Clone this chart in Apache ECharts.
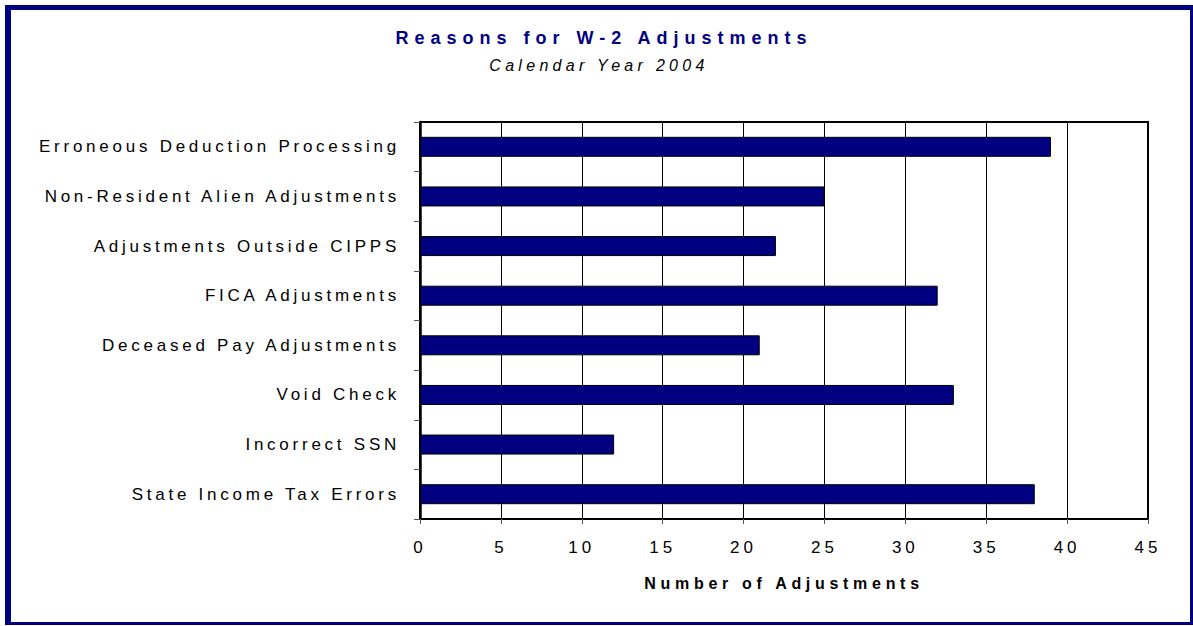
<!DOCTYPE html>
<html>
<head>
<meta charset="utf-8">
<script src="https://cdn.jsdelivr.net/npm/echarts@6/dist/echarts.min.js"></script>
<style>
  html, body { margin: 0; padding: 0; background: #fff; }
  #chart { position: absolute; left: 0; top: 0; width: 1193px; height: 626px; }
  #frame { position: absolute; left: 5px; top: 5px; width: 1188px; height: 620px; box-sizing: border-box;
           border-style: solid; border-color: #000080; border-width: 5px 3px 3px 6px; pointer-events: none; }
</style>
</head>
<body>
<div id="chart"></div>
<div id="frame"></div>
<script>
const titleText = 'Reasons for W-2 Adjustments';
const subtitleText = 'Calendar Year 2004';
const xAxisName = 'Number of Adjustments';
const categories = [
  'Erroneous Deduction Processing',
  'Non-Resident Alien Adjustments',
  'Adjustments Outside CIPPS',
  'FICA Adjustments',
  'Deceased Pay Adjustments',
  'Void Check',
  'Incorrect SSN',
  'State Income Tax Errors'
];
const values = [39, 25, 22, 32, 21, 33, 12, 38];
const xMin = 0, xMax = 45, xStep = 5;

const FONT = '"Liberation Sans", Arial, sans-serif';
const chart = echarts.init(document.getElementById('chart'), null, { renderer: 'svg' });
chart.setOption({
  animation: false,
  graphic: [
    { type: 'text', x: 604, y: 38, style: { text: titleText, textAlign: 'center', textVerticalAlign: 'middle',
      font: 'bold 18px ' + FONT, fill: '#000080' } },
    { type: 'text', x: 599, y: 65, style: { text: subtitleText, textAlign: 'center', textVerticalAlign: 'middle',
      font: 'italic 16px ' + FONT, fill: '#000' } }
  ],
  grid: { left: 420, right: 45, top: 122, bottom: 107, show: true, borderColor: '#000', borderWidth: 2, backgroundColor: 'transparent' },
  xAxis: {
    type: 'value', min: xMin, max: xMax, interval: xStep,
    name: xAxisName, nameLocation: 'middle', nameGap: 56,
    nameTextStyle: { fontFamily: FONT, fontSize: 16, fontWeight: 'bold', color: '#000' },
    axisLine: { show: true, lineStyle: { color: '#000', width: 2 } },
    axisTick: { show: true, length: 5, lineStyle: { color: '#555' } },
    axisLabel: { fontFamily: FONT, fontSize: 17, color: '#000', margin: 20 },
    splitLine: { show: true, lineStyle: { color: '#000', width: 1 } }
  },
  yAxis: {
    type: 'category', data: categories, inverse: true,
    axisLine: { show: true, lineStyle: { color: '#000', width: 2.5 } },
    axisTick: { show: true, length: 6, lineStyle: { color: '#555' } },
    axisLabel: { fontFamily: FONT, fontSize: 17, color: '#000', margin: 20 },
    splitLine: { show: false }
  },
  series: [{
    type: 'bar', data: values, barWidth: 20,
    itemStyle: { color: '#000080', borderColor: '#000', borderWidth: 1 }
  }]
});

function spaceText() {
  document.querySelectorAll('#chart svg text').forEach(t => {
    const s = t.textContent;
    let ls;
    if (s === titleText) ls = 6.0;
    else if (s === subtitleText) ls = 4.3;
    else if (s === xAxisName) ls = 4.7;
    else if (/^\d+$/.test(s)) ls = 4;
    else ls = 3.75;
    t.style.letterSpacing = ls + 'px';
  });
}
spaceText();
setTimeout(spaceText, 50);
</script>
</body>
</html>
